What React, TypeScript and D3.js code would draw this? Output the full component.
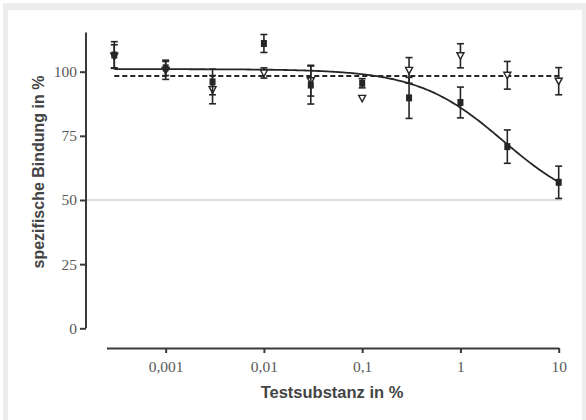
import React, { useEffect, useRef } from "react";
import * as d3 from "d3";

// Konzentrationen (Testsubstanz in %)
const conc = [0.0003, 0.001, 0.003, 0.01, 0.03, 0.1, 0.3, 1, 3, 10];

// gefüllte Quadrate (Sigmoid-Fit)
const squareMean = [106.5, 101.5, 96, 111, 94.8, 95.5, 89.8, 88, 70.8, 56.9];
const squareErr = [5.2, 3, 5, 3.5, 7.4, 1.8, 8, 6, 6.5, 6.3];

// offene Dreiecke (konstant, gestrichelt)
const triMean = [106, 100.5, 93, 99.5, 96.5, 89.6, 100.5, 106.2, 98.6, 96.3];
const triErr = [4.5, 3.5, 5.5, 2, 6, 0, 5, 4.7, 5.4, 5.3];

// Fit-Parameter
const fitTop = 101;
const fitBottom = 45;
const fitIC50 = 2.73;
const fitHill = 1;
const triLevel = 98.3;

const yTicks = [0, 25, 50, 75, 100];
const xTicks = [0.001, 0.01, 0.1, 1, 10];
const xTickLabels = ["0,001", "0,01", "0,1", "1", "10"];

export default function App() {
  const ref = useRef<SVGSVGElement>(null);

  useEffect(() => {
    const svg = d3.select(ref.current);
    svg.selectAll("*").remove();

    const width = 586,
      height = 420;

    svg.attr("width", width).attr("height", height);

    // Rahmen
    svg.append("rect").attr("x", 0).attr("y", 0).attr("width", width).attr("height", height).attr("fill", "#fff");
    svg.append("rect").attr("x", 3).attr("y", 3).attr("width", width - 3).attr("height", height - 3).attr("fill", "#ededed");
    svg.append("rect").attr("x", 8).attr("y", 10).attr("width", width - 12).attr("height", height - 10).attr("fill", "#fff");

    const x = d3.scaleLog().domain([0.00025, 10]).range([106.5, 558.7]);
    const y = d3.scaleLinear().domain([0, 100]).range([328.3, 71.7]);

    const axisColor = "#3a3a3a";
    const labelColor = "#5a5a5a";

    // Referenzlinie 50 %
    svg
      .append("line")
      .attr("x1", 86)
      .attr("x2", 562)
      .attr("y1", y(50))
      .attr("y2", y(50))
      .attr("stroke", "#bdbdbd")
      .attr("stroke-width", 1.2);

    // Y-Achse
    const yAxis = svg
      .append("g")
      .attr("transform", "translate(86,0)")
      .call(
        d3
          .axisLeft(y)
          .tickValues(yTicks)
          .tickSize(6)
          .tickSizeOuter(0)
          .tickPadding(3)
      );
    yAxis.select(".domain").remove();
    yAxis
      .append("line")
      .attr("x1", 0)
      .attr("x2", 0)
      .attr("y1", y(115.3))
      .attr("y2", y(0))
      .attr("stroke", axisColor)
      .attr("stroke-width", 2);
    yAxis.selectAll(".tick line").attr("stroke", axisColor).attr("stroke-width", 2);
    yAxis
      .selectAll(".tick text")
      .attr("fill", labelColor)
      .attr("font-family", "'Liberation Serif', 'DejaVu Serif', serif")
      .attr("font-size", 15.5);

    // X-Achse
    const xAxis = svg
      .append("g")
      .attr("transform", "translate(0,348)")
      .call(
        d3
          .axisBottom(x)
          .tickValues(xTicks)
          .tickFormat((d, i) => xTickLabels[i])
          .tickSize(5)
          .tickSizeOuter(0)
          .tickPadding(8)
      );
    xAxis.select(".domain").attr("stroke", axisColor).attr("stroke-width", 2);
    xAxis.selectAll(".tick line").attr("stroke", axisColor).attr("stroke-width", 2);
    xAxis
      .selectAll(".tick text")
      .attr("fill", labelColor)
      .attr("font-family", "'Liberation Serif', 'DejaVu Serif', serif")
      .attr("font-size", 15.5);

    // Achsentitel
    svg
      .append("text")
      .attr("x", 332)
      .attr("y", 398)
      .attr("text-anchor", "middle")
      .attr("font-family", "'Liberation Sans', Arial, sans-serif")
      .attr("font-weight", "bold")
      .attr("font-size", 16.5)
      .attr("fill", "#444")
      .text("Testsubstanz in %");

    svg
      .append("text")
      .attr("transform", "translate(44,172) rotate(-90)")
      .attr("text-anchor", "middle")
      .attr("font-family", "'Liberation Sans', Arial, sans-serif")
      .attr("font-weight", "bold")
      .attr("font-size", 16)
      .attr("fill", "#444")
      .text("spezifische Bindung in %");

    const markColor = "#262626";

    // gestrichelte Linie (Dreiecke)
    svg
      .append("line")
      .attr("x1", x(conc[0]))
      .attr("x2", x(10) + 2)
      .attr("y1", y(triLevel))
      .attr("y2", y(triLevel))
      .attr("stroke", markColor)
      .attr("stroke-width", 2)
      .attr("stroke-dasharray", "5,3");

    // Sigmoid-Fit (Quadrate)
    const fit = (c: number) => fitBottom + (fitTop - fitBottom) / (1 + Math.pow(c / fitIC50, fitHill));
    const curveX = d3.range(0, 201).map((i) => Math.pow(10, Math.log10(conc[0]) + (i / 200) * (1 - Math.log10(conc[0]))));
    const line = d3
      .line<number>()
      .x((d) => x(d))
      .y((d) => y(fit(d)))
      .curve(d3.curveMonotoneX);
    svg
      .append("path")
      .attr("d", line(curveX))
      .attr("fill", "none")
      .attr("stroke", markColor)
      .attr("stroke-width", 1.8);

    const errorBars = (mean: number[], err: number[]) => {
      const g = svg.append("g").attr("stroke", markColor).attr("stroke-width", 1.6);
      conc.forEach((c, i) => {
        if (err[i] <= 0) return;
        const cx = x(c);
        const y0 = y(mean[i] - err[i]);
        const y1 = y(mean[i] + err[i]);
        g.append("line").attr("x1", cx).attr("x2", cx).attr("y1", y0).attr("y2", y1);
        g.append("line").attr("x1", cx - 3.5).attr("x2", cx + 3.5).attr("y1", y0).attr("y2", y0);
        g.append("line").attr("x1", cx - 3.5).attr("x2", cx + 3.5).attr("y1", y1).attr("y2", y1);
      });
    };

    // Dreiecke
    errorBars(triMean, triErr);
    svg
      .append("g")
      .selectAll("path")
      .data(conc)
      .enter()
      .append("path")
      .attr("transform", (d, i) => `translate(${x(d)},${y(triMean[i])})`)
      .attr("d", "M-3.5,-3 L3.5,-3 L0,3.5 Z")
      .attr("fill", "#fff")
      .attr("stroke", markColor)
      .attr("stroke-width", 1.4);

    // Quadrate
    errorBars(squareMean, squareErr);
    svg
      .append("g")
      .selectAll("rect")
      .data(conc)
      .enter()
      .append("rect")
      .attr("x", (d) => x(d) - 3)
      .attr("y", (d, i) => y(squareMean[i]) - 3.5)
      .attr("width", 6)
      .attr("height", 7)
      .attr("fill", markColor);
  }, []);

  return <svg ref={ref} style={{ position: "absolute", left: 0, top: 0 }}></svg>;
}
